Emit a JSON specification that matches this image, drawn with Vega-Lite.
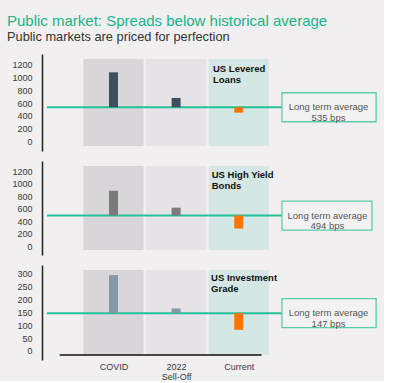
{
  "$schema": "https://vega.github.io/schema/vega-lite/v6.json",
  "background": "#f1eff0",
  "padding": {"left": 0, "top": 14, "right": 0, "bottom": 0},
  "title": {
    "text": "Public market: Spreads below historical average",
    "subtitle": "Public markets are priced for perfection",
    "anchor": "start",
    "frame": "bounds",
    "dx": 7,
    "font": "Liberation Sans",
    "fontSize": 15,
    "fontWeight": "normal",
    "color": "#19b48a",
    "subtitleFont": "Liberation Sans",
    "subtitleFontSize": 12.8,
    "subtitleColor": "#333333",
    "subtitlePadding": 2,
    "offset": 10
  },
  "datasets": {
    "bars": [
      {"panel": "loans", "category": "COVID", "pos": 1, "value": 1080, "avg": 535},
      {"panel": "loans", "category": "2022", "pos": 2, "value": 680, "avg": 535},
      {"panel": "loans", "category": "Current", "pos": 3, "value": 450, "avg": 535},
      {"panel": "hy", "category": "COVID", "pos": 1, "value": 890, "avg": 494},
      {"panel": "hy", "category": "2022", "pos": 2, "value": 620, "avg": 494},
      {"panel": "hy", "category": "Current", "pos": 3, "value": 285, "avg": 494},
      {"panel": "ig", "category": "COVID", "pos": 1, "value": 295, "avg": 147},
      {"panel": "ig", "category": "2022", "pos": 2, "value": 165, "avg": 147},
      {"panel": "ig", "category": "Current", "pos": 3, "value": 82, "avg": 147}
    ],
    "panels": [
      {"panel": "loans", "name": "US Levered\nLoans", "avg": 535, "box": "Long term average\n535 bps"},
      {"panel": "hy", "name": "US High Yield\nBonds", "avg": 494, "box": "Long term average\n494 bps"},
      {"panel": "ig", "name": "US Investment\nGrade", "avg": 147, "box": "Long term average\n147 bps"}
    ],
    "bands": [
      {"category": "COVID", "pos": 1},
      {"category": "2022", "pos": 2},
      {"category": "Current", "pos": 3}
    ]
  },
  "config": {
    "view": {"stroke": null},
    "font": "Liberation Sans",
    "concat": {"spacing": 10},
    "scale": {"nice": false, "zero": false},
    "axis": {
      "labelFont": "Liberation Sans",
      "labelFontSize": 9,
      "labelColor": "#3a3a3a",
      "ticks": false,
      "grid": false,
      "title": null,
      "labelOverlap": false,
      "labelFlush": false
    }
  },
  "vconcat": [
    {
      "width": 342,
      "height": 97,
      "layer": [
        {
          "data": {"name": "bands"},
          "mark": {"type": "bar", "width": 60},
          "encoding": {
            "x": {"field": "pos", "type": "quantitative", "scale": {"domain": [-0.062, 5.24], "nice": false}, "axis": null},
            "y": {"datum": 1288, "type": "quantitative", "scale": {"domain": [-70, 1288], "nice": false, "zero": false},
              "axis": {"values": [0, 200, 400, 600, 800, 1000, 1200], "tickCount": 7, "labelOverlap": false, "labelSeparation": 0, "format": "d", "domain": true, "domainColor": "#222222", "domainWidth": 1.5, "labelPadding": 10, "minExtent": 42, "maxExtent": 42}},
            "y2": {"datum": -70},
            "color": {"field": "category", "type": "nominal", "scale": {"domain": ["COVID", "2022", "Current"], "range": ["#d8d6d8", "#e5e3e5", "#d4e7e4"]}, "legend": null}
          }
        },
        {
          "data": {"name": "panels"},
          "transform": [{"filter": "datum.panel == 'loans'"}],
          "mark": {"type": "rule", "color": "#25c29a", "strokeWidth": 2},
          "encoding": {"x": {"datum": -0.062}, "x2": {"datum": 3.69}, "y": {"field": "avg", "type": "quantitative"}}
        },
        {
          "data": {"name": "bars"},
          "transform": [{"filter": "datum.panel == 'loans'"}],
          "mark": {"type": "bar", "width": 9},
          "encoding": {
            "x": {"field": "pos", "type": "quantitative"},
            "y": {"field": "avg", "type": "quantitative"},
            "y2": {"field": "value"},
            "color": {"condition": {"test": "datum.category == 'Current'", "value": "#ff7300"}, "value": "#3e4e5a"}
          }
        },
        {
          "data": {"name": "panels"},
          "transform": [{"filter": "datum.panel == 'loans'"}],
          "mark": {"type": "bar", "orient": "horizontal", "height": 29, "fill": "#f3f2f2", "stroke": "#5ccbab", "strokeWidth": 1.3},
          "encoding": {"x": {"datum": 3.69}, "x2": {"datum": 5.194}, "y": {"field": "avg", "type": "quantitative"}}
        },
        {
          "data": {"name": "panels"},
          "transform": [{"filter": "datum.panel == 'loans'"}],
          "mark": {"type": "text", "lineBreak": "\n", "fontSize": 9.5, "color": "#555555", "lineHeight": 10.5, "align": "center", "baseline": "middle"},
          "encoding": {"x": {"datum": 4.434}, "y": {"field": "avg", "type": "quantitative"}, "text": {"field": "box"}}
        },
        {
          "data": {"name": "panels"},
          "transform": [{"filter": "datum.panel == 'loans'"}],
          "mark": {"type": "text", "lineBreak": "\n", "fontSize": 9.5, "fontWeight": "bold", "color": "#111111", "lineHeight": 11, "align": "left", "baseline": "top"},
          "encoding": {"x": {"datum": 2.589}, "y": {"datum": 1210}, "text": {"field": "name"}}
        }
      ]
    },
    {
      "width": 342,
      "height": 94,
      "layer": [
        {
          "data": {"name": "bands"},
          "mark": {"type": "bar", "width": 60},
          "encoding": {
            "x": {"field": "pos", "type": "quantitative", "scale": {"domain": [-0.062, 5.24], "nice": false}, "axis": null},
            "y": {"datum": 1286, "type": "quantitative", "scale": {"domain": [-57, 1286], "nice": false, "zero": false},
              "axis": {"values": [0, 200, 400, 600, 800, 1000, 1200], "tickCount": 7, "labelOverlap": false, "labelSeparation": 0, "format": "d", "domain": true, "domainColor": "#222222", "domainWidth": 1.5, "labelPadding": 10, "minExtent": 42, "maxExtent": 42}},
            "y2": {"datum": -57},
            "color": {"field": "category", "type": "nominal", "scale": {"domain": ["COVID", "2022", "Current"], "range": ["#d8d6d8", "#e5e3e5", "#d4e7e4"]}, "legend": null}
          }
        },
        {
          "data": {"name": "panels"},
          "transform": [{"filter": "datum.panel == 'hy'"}],
          "mark": {"type": "rule", "color": "#25c29a", "strokeWidth": 2},
          "encoding": {"x": {"datum": -0.062}, "x2": {"datum": 3.69}, "y": {"field": "avg", "type": "quantitative"}}
        },
        {
          "data": {"name": "bars"},
          "transform": [{"filter": "datum.panel == 'hy'"}],
          "mark": {"type": "bar", "width": 9},
          "encoding": {
            "x": {"field": "pos", "type": "quantitative"},
            "y": {"field": "avg", "type": "quantitative"},
            "y2": {"field": "value"},
            "color": {"condition": {"test": "datum.category == 'Current'", "value": "#ff7300"}, "value": "#7b7b7b"}
          }
        },
        {
          "data": {"name": "panels"},
          "transform": [{"filter": "datum.panel == 'hy'"}],
          "mark": {"type": "bar", "orient": "horizontal", "height": 29, "fill": "#f3f2f2", "stroke": "#5ccbab", "strokeWidth": 1.3},
          "encoding": {"x": {"datum": 3.69}, "x2": {"datum": 5.127}, "y": {"field": "avg", "type": "quantitative"}}
        },
        {
          "data": {"name": "panels"},
          "transform": [{"filter": "datum.panel == 'hy'"}],
          "mark": {"type": "text", "lineBreak": "\n", "fontSize": 9.5, "color": "#555555", "lineHeight": 10.5, "align": "center", "baseline": "middle"},
          "encoding": {"x": {"datum": 4.416}, "y": {"field": "avg", "type": "quantitative"}, "text": {"field": "box"}}
        },
        {
          "data": {"name": "panels"},
          "transform": [{"filter": "datum.panel == 'hy'"}],
          "mark": {"type": "text", "lineBreak": "\n", "fontSize": 9.5, "fontWeight": "bold", "color": "#111111", "lineHeight": 11, "align": "left", "baseline": "top"},
          "encoding": {"x": {"datum": 2.569}, "y": {"datum": 1230}, "text": {"field": "name"}}
        }
      ]
    },
    {
      "width": 342,
      "height": 95,
      "layer": [
        {
          "data": {"name": "bands"},
          "mark": {"type": "bar", "width": 60},
          "encoding": {
            "x": {"field": "pos", "type": "quantitative", "scale": {"domain": [-0.062, 5.24], "nice": false},
              "axis": {"values": [1, 2, 3], "labelExpr": "datum.value == 1 ? 'COVID' : datum.value == 2 ? ['2022', 'Sell-Off'] : 'Current'", "domain": false, "labelPadding": 2, "labelLineHeight": 10}},
            "y": {"datum": 315, "type": "quantitative", "scale": {"domain": [-16, 315], "nice": false, "zero": false},
              "axis": {"values": [0, 50, 100, 150, 200, 250, 300], "tickCount": 7, "labelOverlap": false, "labelSeparation": 0, "format": "d", "domain": true, "domainColor": "#222222", "domainWidth": 1.5, "labelPadding": 10, "minExtent": 42, "maxExtent": 42}},
            "y2": {"datum": -16},
            "color": {"field": "category", "type": "nominal", "scale": {"domain": ["COVID", "2022", "Current"], "range": ["#d8d6d8", "#e5e3e5", "#d4e7e4"]}, "legend": null}
          }
        },
        {
          "data": {"name": "panels"},
          "transform": [{"filter": "datum.panel == 'ig'"}],
          "mark": {"type": "rule", "color": "#25c29a", "strokeWidth": 2},
          "encoding": {"x": {"datum": -0.062}, "x2": {"datum": 3.69}, "y": {"field": "avg", "type": "quantitative"}}
        },
        {
          "data": {"name": "bars"},
          "transform": [{"filter": "datum.panel == 'ig'"}],
          "mark": {"type": "bar", "width": 9},
          "encoding": {
            "x": {"field": "pos", "type": "quantitative"},
            "y": {"field": "avg", "type": "quantitative"},
            "y2": {"field": "value"},
            "color": {"condition": {"test": "datum.category == 'Current'", "value": "#ff7300"}, "value": "#8498a6"}
          }
        },
        {
          "data": {"name": "panels"},
          "transform": [{"filter": "datum.panel == 'ig'"}],
          "mark": {"type": "bar", "orient": "horizontal", "height": 29, "fill": "#f3f2f2", "stroke": "#5ccbab", "strokeWidth": 1.3},
          "encoding": {"x": {"datum": 3.69}, "x2": {"datum": 5.194}, "y": {"field": "avg", "type": "quantitative"}}
        },
        {
          "data": {"name": "panels"},
          "transform": [{"filter": "datum.panel == 'ig'"}],
          "mark": {"type": "text", "lineBreak": "\n", "fontSize": 9.5, "color": "#555555", "lineHeight": 10.5, "align": "center", "baseline": "middle"},
          "encoding": {"x": {"datum": 4.434}, "y": {"field": "avg", "type": "quantitative"}, "text": {"field": "box"}}
        },
        {
          "data": {"name": "panels"},
          "transform": [{"filter": "datum.panel == 'ig'"}],
          "mark": {"type": "text", "lineBreak": "\n", "fontSize": 9.5, "fontWeight": "bold", "color": "#111111", "lineHeight": 11, "align": "left", "baseline": "top"},
          "encoding": {"x": {"datum": 2.558}, "y": {"datum": 304}, "text": {"field": "name"}}
        },
        {
          "data": {"name": "panels"},
          "transform": [{"filter": "datum.panel == 'ig'"}],
          "mark": {"type": "rule", "color": "#111111", "strokeWidth": 1.5},
          "encoding": {"x": {"datum": 0.14}, "x2": {"datum": 3.364}, "y": {"datum": -16}}
        }
      ]
    }
  ]
}
